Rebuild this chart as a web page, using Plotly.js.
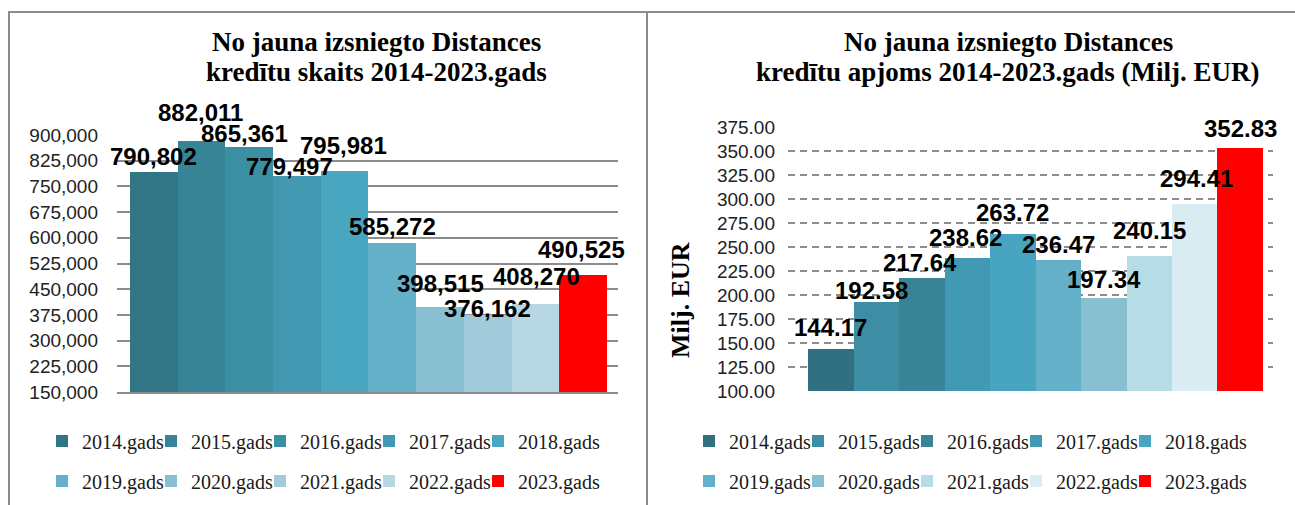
<!DOCTYPE html>
<html><head><meta charset="utf-8">
<script src="https://cdn.plot.ly/plotly-3.0.1.min.js"></script>
<style>
html,body{margin:0;padding:0;background:#fff;width:1295px;height:505px;overflow:hidden;position:relative;}
.frame{position:absolute;border:2px solid #8c8c8c;box-sizing:border-box;}
#f1{left:8px;top:11px;width:640px;height:600px;}
#f2{left:646px;top:11px;width:700px;height:600px;}
#c1{position:absolute;left:0;top:0;width:646px;height:505px;}
#c2{position:absolute;left:646px;top:0;width:649px;height:505px;}
</style></head><body>
<div class="frame" id="f1"></div><div class="frame" id="f2"></div>
<div id="c1"></div><div id="c2"></div>
<script>
// ---- data ----
const years = ['2014.gads','2015.gads','2016.gads','2017.gads','2018.gads','2019.gads','2020.gads','2021.gads','2022.gads','2023.gads'];
const countValues = [790802, 882011, 865361, 779497, 795981, 585272, 398515, 376162, 408270, 490525];
const volumeValues = [144.17, 192.58, 217.64, 238.62, 263.72, 236.47, 197.34, 240.15, 294.41, 352.83];
const leftTitleLines = ['No jauna izsniegto Distances', 'kredītu skaits 2014-2023.gads'];
const rightTitleLines = ['No jauna izsniegto Distances', 'kredītu apjoms 2014-2023.gads (Milj. EUR)'];
const rightAxisTitle = 'Milj. EUR';

// ---- styles ----
const leftColors = ['#327585','#368496','#3b8fa2','#4399b1','#48a6c0','#64b0c9','#88bfd1','#a1cbda','#b7d7e2','#ff0000'];
const rightColors = ['#317080','#3d8ea5','#388496','#4299b3','#48a5c1','#64b0c9','#88bfd1','#b6dce6','#d8ecf2','#ff0000'];
// pixel lift of each data label above its bar top (label placement as in the reference)
const leftLabelLift = [16, 29, 13, 10, 25, 16, 23, 6, 27, 26];
const leftLabelNudge = [0, -1, -5, -7, -1, 0, 0, 0, 1, -2];
const rightLabelLift = [21, 12, 16, 20, 21, 15, 18, 26, 26, 20];
const rightLabelNudge = [0, -5, -2, -2, 0, 0, 0, 0, 2, 0];
const sans = 'Liberation Sans, Arial, sans-serif';
const serif = 'Liberation Serif, Times New Roman, serif';
const cfg = {displayModeBar:false, staticPlot:true};

function legendName(i){ return i === 0 ? 'legend' : 'legend' + (i + 1); }

function makeTraces(values, colors){
  return years.map((name,i)=>({
    type:'bar', x:[name], y:[values[i]], name:name,
    marker:{color:colors[i], line:{width:0}},
    legend: legendName(i), hoverinfo:'skip'
  }));
}

function labelAnnotations(values, fmt, lift, nudge){
  return years.map((name,i)=>({
    text: fmt(values[i]), x:name, y:values[i], xref:'x', yref:'y',
    xanchor:'center', yanchor:'middle', yshift:lift[i], xshift:nudge[i], showarrow:false,
    font:{family:sans, size:24, color:'#000', weight:'bold'}
  }));
}

// one legend box per entry, laid out in two rows of five like the reference
function legends(layout, textX0, width){
  years.forEach((_,i)=>{
    const col = i % 5, row = Math.floor(i / 5);
    const textX = textX0 + col * 109;
    layout[legendName(i)] = {
      orientation:'h', xref:'container', yref:'container',
      x:(textX - 37) / width, y:1 - (row === 0 ? 441 : 481) / 505, xanchor:'left', yanchor:'middle',
      font:{family:serif, size:20, color:'#1a1a1a'}, bgcolor:'rgba(0,0,0,0)', itemwidth:30
    };
  });
}

function titleAnnotations(lines, cx, plotL, plotW, plotB, plotH){
  const ys = [42, 72];
  return lines.map((t,k)=>({
    text:t, xref:'paper', yref:'paper', x:(cx - plotL) / plotW, y:(plotB - ys[k]) / plotH,
    xanchor:'center', yanchor:'middle', showarrow:false,
    font:{family:serif, size:27, weight:'bold', color:'#000'}
  }));
}

const fmtCount = v => v.toLocaleString('en-US');
const fmtVolume = v => v.toFixed(2);

// ---- left chart ----
const leftLayout = {
  width:646, height:505,
  margin:{l:117, r:28, t:135, b:113},
  paper_bgcolor:'rgba(0,0,0,0)', plot_bgcolor:'rgba(0,0,0,0)',
  barmode:'overlay', bargap:0,
  xaxis:{type:'category', range:[-0.77, 9.73], showticklabels:false, showgrid:false, zeroline:false,
    showline:true, linecolor:'#8c8c8c', linewidth:2},
  yaxis:{range:[150000,900000], tick0:150000, dtick:75000, tickformat:',d', showgrid:true, gridcolor:'#8c8c8c', gridwidth:2,
    zeroline:false, showline:false, ticks:'', ticklabelstandoff:18, tickfont:{family:sans, size:19, color:'#222'}},
  showlegend:true,
  annotations: titleAnnotations(leftTitleLines, 376, 117, 501, 392, 257)
    .concat(labelAnnotations(countValues, fmtCount, leftLabelLift, leftLabelNudge))
};
legends(leftLayout, 79, 646);
Plotly.newPlot('c1', makeTraces(countValues, leftColors), leftLayout, cfg);

// ---- right chart ----
const rightLayout = {
  width:649, height:505,
  margin:{l:142, r:22, t:127, b:114},
  paper_bgcolor:'rgba(0,0,0,0)', plot_bgcolor:'rgba(0,0,0,0)',
  barmode:'overlay', bargap:0,
  xaxis:{type:'category', range:[-0.94, 9.72], showticklabels:false, showgrid:false, zeroline:false, showline:false},
  yaxis:{range:[100,375], tick0:100, dtick:25, tickformat:'.2f', showgrid:true, gridcolor:'#8c8c8c', gridwidth:2, griddash:'7px,5px',
    zeroline:false, showline:false, ticks:'', ticklabelstandoff:12, tickfont:{family:sans, size:19, color:'#222'}},
  showlegend:true,
  annotations: titleAnnotations(rightTitleLines, 1008 - 646, 142, 485, 391, 264)
    .concat(labelAnnotations(volumeValues, fmtVolume, rightLabelLift, rightLabelNudge))
    .concat([{text:rightAxisTitle, xref:'paper', yref:'paper', x:(680-788)/485, y:(391-300)/264, textangle:-90,
     showarrow:false, xanchor:'center', yanchor:'middle', font:{family:serif, size:26, weight:'bold', color:'#000'}}])
};
legends(rightLayout, 80, 649);
Plotly.newPlot('c2', makeTraces(volumeValues, rightColors), rightLayout, cfg);
</script>
</body></html>
